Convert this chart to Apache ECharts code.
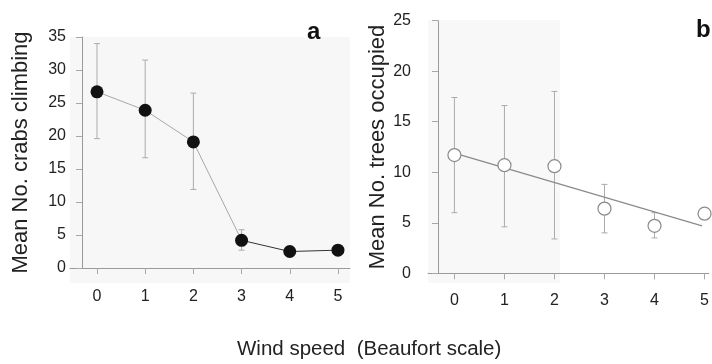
<!DOCTYPE html>
<html>
<head>
<meta charset="utf-8">
<script src="https://cdn.jsdelivr.net/npm/echarts@6/dist/echarts.min.js"></script>
<style>
  html, body { margin: 0; padding: 0; background: #fff; }
  #chart { width: 712px; height: 364px; }
</style>
</head>
<body>
<div id="chart"></div>
<script>
// wind speed categories (Beaufort)
const windSpeed = [0, 1, 2, 3, 4, 5];

// panel a: mean no. crabs climbing, with error bars
const crabsMean = [26.7, 23.9, 19.1, 4.2, 2.5, 2.7];
const crabsLow = [19.6, 16.7, 11.9, 2.7, 2.4, 2.6];
const crabsHigh = [34.0, 31.5, 26.5, 5.8, 2.6, 2.8];

// panel b: mean no. trees occupied, with error bars
const treesMean = [11.7, 10.7, 10.6, 6.4, 4.7, 5.9];
const treesLow = [6.0, 4.6, 3.4, 4.0, 3.5, 5.8];
const treesHigh = [17.4, 16.6, 18.0, 8.8, 6.0, 6.0];

// fitted regression line in panel b
const fitX = [0, 4.95];
const fitY = [11.9, 4.7];

const font = "'Liberation Sans', Arial, sans-serif";
const chart = echarts.init(document.getElementById('chart'));

// vertical error bar with small caps
function errorBar(params, api) {
  const x = api.value(0);
  const top = api.coord([x, api.value(2)]);
  const bot = api.coord([x, api.value(1)]);
  const w = 3;
  const st = { stroke: '#ababab', lineWidth: 1 };
  return {
    type: 'group',
    children: [
      { type: 'line', shape: { x1: top[0], y1: top[1], x2: bot[0], y2: bot[1] }, style: st },
      { type: 'line', shape: { x1: top[0] - w, y1: top[1], x2: top[0] + w, y2: top[1] }, style: st },
      { type: 'line', shape: { x1: bot[0] - w, y1: bot[1], x2: bot[0] + w, y2: bot[1] }, style: st }
    ]
  };
}

function xAxisOpt(idx, min, max, margin) {
  return {
    type: 'value',
    gridIndex: idx,
    min: min,
    max: max,
    splitLine: { show: false },
    axisLine: { onZero: false, lineStyle: { color: '#9a9a9a', width: 1 } },
    axisTick: { customValues: windSpeed, length: 6, lineStyle: { color: '#a8a8a8' } },
    axisLabel: { customValues: windSpeed, margin: margin, color: '#222', fontSize: 16, fontFamily: font }
  };
}

function yAxisOpt(idx, max, name, offset, margin, gap) {
  return {
    type: 'value',
    gridIndex: idx,
    min: 0,
    max: max,
    interval: 5,
    offset: offset,
    name: name,
    nameLocation: 'middle',
    nameGap: gap,
    nameTextStyle: { color: '#222', fontSize: 22, fontFamily: font },
    splitLine: { show: false },
    axisLine: { show: true, onZero: false, lineStyle: { color: '#9a9a9a', width: 1 } },
    axisTick: { show: true, length: 6, lineStyle: { color: '#a8a8a8' } },
    axisLabel: { margin: margin, color: '#222', fontSize: 16, fontFamily: font }
  };
}

const option = {
  animation: false,
  backgroundColor: '#fff',
  grid: [
    { left: 70, right: 362, top: 37, bottom: 96 },
    { left: 428, right: 0, top: 20.7, bottom: 90.7 }
  ],
  xAxis: [
    xAxisOpt(0, -0.56, 5.25, 21),
    xAxisOpt(1, -0.528, 5.085, 19)
  ],
  yAxis: [
    yAxisOpt(0, 35, 'Mean No. crabs climbing', -12, 16, 50),
    yAxisOpt(1, 25, 'Mean No. trees occupied', -10, 27, 44)
  ],
  graphic: [
    { type: 'rect', z: -1, shape: { x: 70, y: 37, width: 280, height: 246 }, style: { fill: '#f7f7f7' } },
    { type: 'rect', z: -1, shape: { x: 428, y: 20, width: 132, height: 263 }, style: { fill: '#f8f8f8' } },
    { type: 'text', left: 307, top: 20, style: { text: 'a', font: 'bold 24px ' + font, fill: '#111' } },
    { type: 'text', left: 696, top: 18, style: { text: 'b', font: 'bold 24px ' + font, fill: '#111' } },
    { type: 'text', left: 237, top: 339, style: { text: 'Wind speed  (Beaufort scale)', font: '20.5px ' + font, fill: '#222' } }
  ],
  series: [
    {
      type: 'custom',
      xAxisIndex: 0, yAxisIndex: 0,
      renderItem: errorBar,
      data: windSpeed.map((x, i) => [x, crabsLow[i], crabsHigh[i]]),
      z: 1
    },
    {
      type: 'line',
      xAxisIndex: 0, yAxisIndex: 0,
      showSymbol: false,
      lineStyle: { color: '#a8a8a8', width: 1 },
      data: windSpeed.slice(0, 4).map((x, i) => [x, crabsMean[i]]),
      z: 2
    },
    {
      type: 'line',
      xAxisIndex: 0, yAxisIndex: 0,
      showSymbol: false,
      lineStyle: { color: '#333', width: 1 },
      data: windSpeed.slice(3).map((x, i) => [x, crabsMean[i + 3]]),
      z: 2
    },
    {
      type: 'scatter',
      xAxisIndex: 0, yAxisIndex: 0,
      symbolSize: 13,
      itemStyle: { color: '#111', opacity: 1 },
      data: windSpeed.map((x, i) => [x, crabsMean[i]]),
      z: 3
    },
    {
      type: 'custom',
      xAxisIndex: 1, yAxisIndex: 1,
      renderItem: errorBar,
      data: windSpeed.map((x, i) => [x, treesLow[i], treesHigh[i]]),
      z: 1
    },
    {
      type: 'line',
      xAxisIndex: 1, yAxisIndex: 1,
      showSymbol: false,
      lineStyle: { color: '#8a8a8a', width: 1.2 },
      data: fitX.map((x, i) => [x, fitY[i]]),
      z: 2
    },
    {
      type: 'scatter',
      xAxisIndex: 1, yAxisIndex: 1,
      symbolSize: 13,
      itemStyle: { color: '#fff', borderColor: '#8a8a8a', borderWidth: 1.2, opacity: 1 },
      data: windSpeed.map((x, i) => [x, treesMean[i]]),
      z: 3
    }
  ]
};

chart.setOption(option);
</script>
</body>
</html>
